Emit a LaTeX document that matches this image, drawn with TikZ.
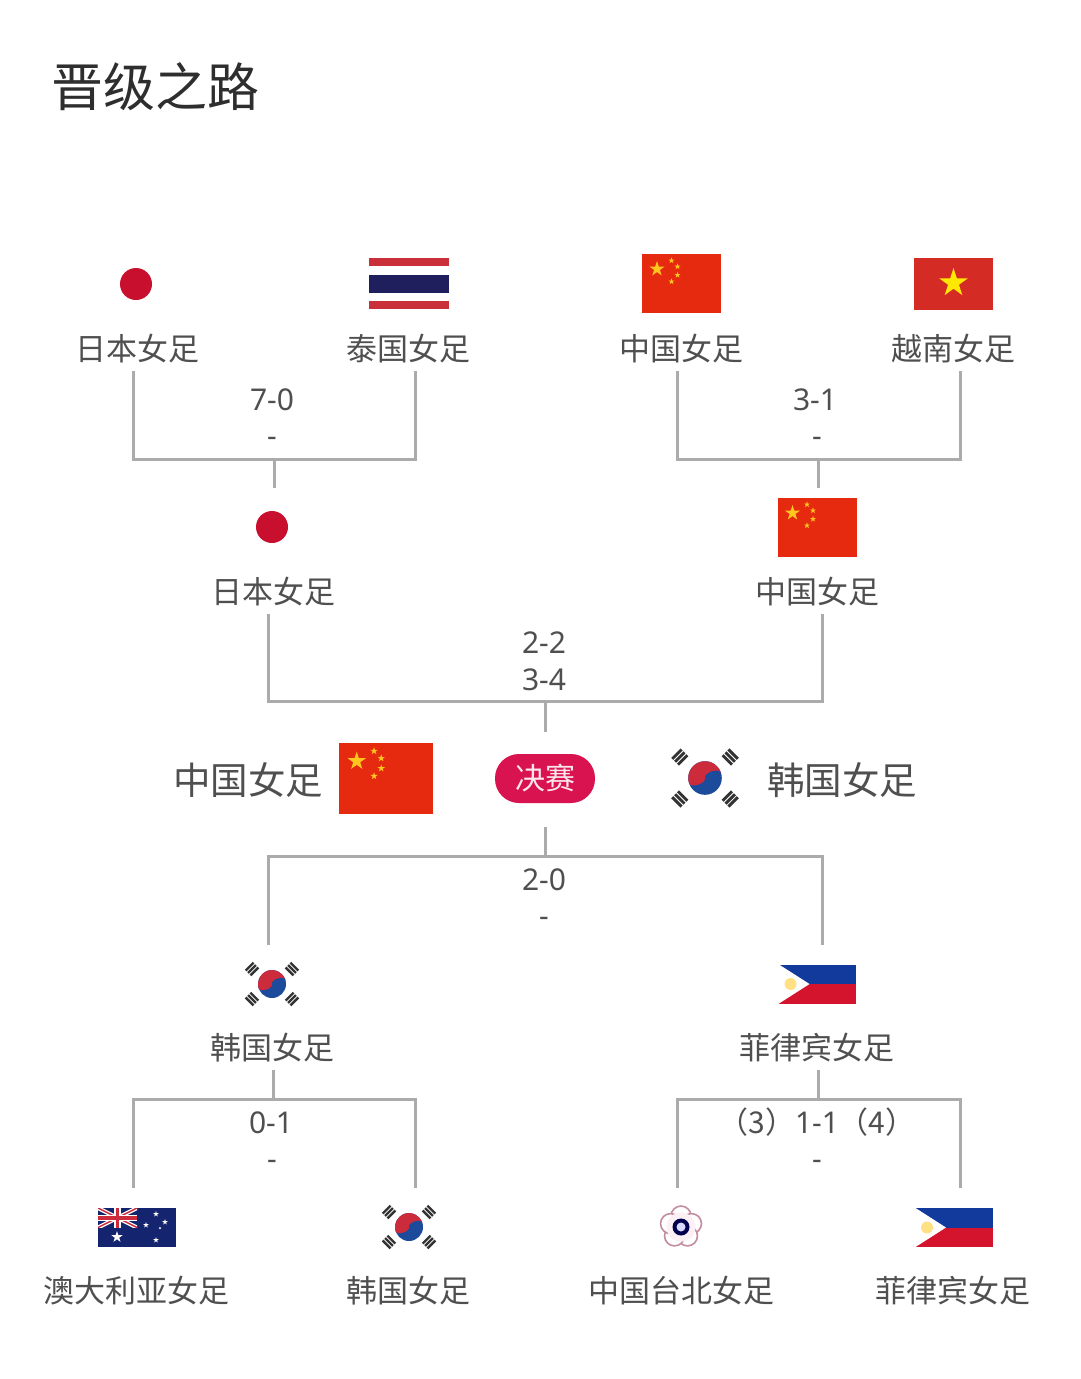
\documentclass[tikz,border=0pt]{standalone}
\usepackage{fontspec}
\setmainfont{Noto Sans CJK SC}
\newfontfamily\scorefont{Noto Sans}
\definecolor{linegray}{HTML}{ABABAB}
\definecolor{textgray}{HTML}{4F4F4F}
\definecolor{titlegray}{HTML}{2E2E2E}
\definecolor{finalred}{HTML}{D8134F}
\definecolor{cnred}{HTML}{E62A10}
\definecolor{cnstar}{HTML}{FFC61E}
\definecolor{vnred}{HTML}{D42B25}
\definecolor{thred}{HTML}{C9303A}
\definecolor{thblue}{HTML}{1F1F5E}
\definecolor{jpred}{HTML}{C8102E}
\definecolor{krred}{HTML}{CC2B3C}
\definecolor{krblue}{HTML}{1C4B9C}
\definecolor{phblue}{HTML}{123A9C}
\definecolor{phred}{HTML}{D3142C}
\definecolor{aublue}{HTML}{14246E}
\newcommand{\fivestar}[3]{%
  \pgfmathsetmacro{\innerr}{0.382*#3}
  \fill (#1,#2) +(-90:#3)
    \foreach \k in {0,...,4} {-- +({-54+72*\k}:\innerr) -- +({-18+72*\k}:#3)} -- cycle;}
\tikzset{
  teamlabel/.style={text=textgray,font=\fontsize{31}{31}\selectfont,inner sep=0pt},
  finallabel/.style={text=textgray,font=\fontsize{37.5}{37.5}\selectfont,inner sep=0pt},
  scorelabel/.style={text=textgray,font=\fontsize{30}{30}\selectfont\scorefont,inner sep=0pt},
  bracket/.style={draw=linegray,line width=3pt},
  pics/cnflag/.style={code={
    \fill[cnred] (-39.5,-29.5) rectangle (39.5,29.5);
    \begin{scope}[cnstar]
      \fivestar{-24.5}{-14.5}{8}
      \fivestar{-10}{-23}{3.2}
      \fivestar{-4}{-17}{3.2}
      \fivestar{-4}{-8.5}{3.2}
      \fivestar{-10}{-2}{3.2}
    \end{scope}
  }},
  pics/krflag/.style 2 args={code={
    \fill[krblue] (0,0) circle (14);
    \begin{scope}[rotate=18]
      \clip (0,0) circle (14);
      \fill[krred] (-15,-15) rectangle (15,0);
      \fill[krred] (-7,0) ellipse (7 and 3.5);
      \fill[krblue] (7,0) ellipse (7 and 3.5);
    \end{scope}
    \foreach \sx/\sy/\rot in {-1/-1/45,1/-1/-45,-1/1/-45,1/1/45}
      \foreach \off in {-3.4,0,3.4}
        \fill[black!80,shift={(\sx*#1,\sy*#2)},rotate=\rot] (-5.5,\off-1.2) rectangle (5.5,\off+1.2);
  }},
  pics/phflag/.style={code={
    \fill[phblue] (-38.5,-19.5) rectangle (38.5,0);
    \fill[phred] (-38.5,0) rectangle (38.5,19.5);
    \fill[white] (-38.5,-19.5) -- (-8,0) -- (-38.5,19.5) -- cycle;
    \fill[cnstar!55] (-27,0) circle (6);
  }}
}
\begin{document}
\begin{tikzpicture}[x=1pt,y=-1pt]
    \useasboundingbox (0,0) rectangle (1080,1379);
    \node[inner sep=0pt,text=titlegray,font=\fontsize{52}{52}\selectfont] (title) at (155,87) {晋级之路};

    % top row, left
    \fill[jpred] (136,284) circle (16);
    \fill[thred] (369,258) rectangle (449,266);
    \fill[thblue] (369,275) rectangle (449,293);
    \fill[thred] (369,301) rectangle (449,309);
    \node[teamlabel] (JPa) at (137,349) {日本女足};
    \node[teamlabel] (THa) at (408,349) {泰国女足};
    \node[scorelabel] (SCa) at (272,400) {7-0};
    \node[scorelabel] (SCb) at (272,442) {-};

    % top row, right
    \pic at (681.5,283.5) {cnflag};
    \fill[vnred] (914,258) rectangle (993,310);
    \begin{scope}[yellow!90!orange]
      \fivestar{953.5}{283}{15}
    \end{scope}
    \node[teamlabel] (CNa) at (681,349) {中国女足};
    \node[teamlabel] (VNa) at (953,349) {越南女足};
    \node[scorelabel] (SCc) at (815,400) {3-1};
    \node[scorelabel] (SCd) at (817,442) {-};

    % semi final row, top
    \fill[jpred] (272,527) circle (16);
    \pic at (817,527.5) {cnflag};
    \node[teamlabel] (JPb) at (273,592) {日本女足};
    \node[teamlabel] (CNb) at (817,592) {中国女足};
    \node[scorelabel] (SCe) at (544,643) {2-2};
    \node[scorelabel] (SCf) at (544,680) {3-4};

    % final
    \pic[scale=1.195] at (386,778.5) {cnflag};
    \pic[scale=1.2] at (705,778) {krflag={21}{17.5}};
    \node[finallabel] (CNc) at (248,780) {中国女足};
    \node[finallabel] (KRc) at (842,780) {韩国女足};
    \node[fill=finalred,text=white!90!finalred,rounded corners=24pt,minimum width=100pt,minimum height=49pt,inner sep=0pt,font=\fontsize{30}{30}\selectfont] (FINAL) at (545,778.5) {决赛};

    % semi final row, bottom
    \node[scorelabel] (SCg) at (544,880) {2-0};
    \node[scorelabel] (SCh) at (544,922) {-};
    \pic at (272,984) {krflag={20}{15}};
    \pic at (817.5,984) {phflag};
    \node[teamlabel] (KRb) at (272,1048) {韩国女足};
    \node[teamlabel] (PHb) at (817,1048) {菲律宾女足};

    % bottom row, left
    \node[scorelabel] (SCi) at (271,1123) {0-1};
    \node[scorelabel] (SCj) at (272,1165) {-};
    \fill[aublue] (98,1208) rectangle (175.5,1247);
    \begin{scope}
      \clip (98,1208) rectangle (137,1227.5);
      \draw[white,line width=4pt] (98,1208) -- (137,1227.5) (137,1208) -- (98,1227.5);
      \draw[krred,line width=1.5pt] (98,1208) -- (137,1227.5) (137,1208) -- (98,1227.5);
      \draw[white,line width=6.5pt] (117.5,1208) -- (117.5,1227.5) (98,1217.75) -- (137,1217.75);
      \draw[krred,line width=3.5pt] (117.5,1208) -- (117.5,1227.5) (98,1217.75) -- (137,1217.75);
    \end{scope}
    \begin{scope}[white]
      \fivestar{117}{1237}{6}
      \fivestar{156}{1214}{3}
      \fivestar{165}{1222}{3}
      \fivestar{146}{1225}{3}
      \fivestar{156}{1240}{3}
      \fivestar{160}{1228}{1.5}
    \end{scope}
    \pic at (409,1227) {krflag={20}{15}};
    \node[teamlabel] (AUa) at (136,1291) {澳大利亚女足};
    \node[teamlabel] (KRa) at (408,1291) {韩国女足};

    % bottom row, right
    \node[scorelabel] (SCk) at (817,1122) {{\rmfamily （3）}1-1{\rmfamily （4）}};
    \node[scorelabel] (SCl) at (817,1165) {-};
    \foreach \ang in {-90,-18,54,126,198}
      \draw[black!35!purple!45,line width=1.6pt,fill=white] (681,1227) ++(\ang:11) circle (10);
    \fill[purple!6] (681,1227) circle (14.5);
    \fill[blue!30!black] (681,1227) circle (8.5);
    \fill[white!85!blue] (681,1227) circle (4.5);
    \pic at (954,1227.5) {phflag};
    \node[teamlabel] (TWa) at (681,1291) {中国台北女足};
    \node[teamlabel] (PHa) at (953,1291) {菲律宾女足};

    % connector ends
    \coordinate (JPaEnd) at (133,371);
    \coordinate (THaEnd) at (415,371);
    \coordinate (JoinA) at (274,459);
    \coordinate (JPbEnd) at (274,488);
    \coordinate (CNaEnd) at (677,371);
    \coordinate (VNaEnd) at (960,371);
    \coordinate (JoinB) at (818,459);
    \coordinate (CNbEnd) at (818,488);
    \coordinate (JPcEnd) at (268,614);
    \coordinate (CNcEnd) at (822,614);
    \coordinate (JoinC) at (545,701);
    \coordinate (FinalTop) at (545,732);
    \coordinate (FinalBottom) at (545,827);
    \coordinate (JoinD) at (545,856);
    \coordinate (KRbEnd) at (268,945);
    \coordinate (PHbEnd) at (822,945);
    \coordinate (KRdEnd) at (273,1070);
    \coordinate (JoinE) at (273,1099);
    \coordinate (AUaEnd) at (133,1188);
    \coordinate (KRaEnd) at (415,1188);
    \coordinate (PHdEnd) at (818,1070);
    \coordinate (JoinF) at (818,1099);
    \coordinate (TWaEnd) at (677,1188);
    \coordinate (PHaEnd) at (960,1188);

    \draw[bracket] (JPaEnd) |- (JoinA) -| (THaEnd) (JoinA) -- (JPbEnd);
    \draw[bracket] (CNaEnd) |- (JoinB) -| (VNaEnd) (JoinB) -- (CNbEnd);
    \draw[bracket] (JPcEnd) |- (JoinC) -| (CNcEnd) (JoinC) -- (FinalTop);
    \draw[bracket] (KRbEnd) |- (JoinD) -| (PHbEnd) (JoinD) -- (FinalBottom);
    \draw[bracket] (AUaEnd) |- (JoinE) -| (KRaEnd) (JoinE) -- (KRdEnd);
    \draw[bracket] (TWaEnd) |- (JoinF) -| (PHaEnd) (JoinF) -- (PHdEnd);
\end{tikzpicture}
\end{document}
